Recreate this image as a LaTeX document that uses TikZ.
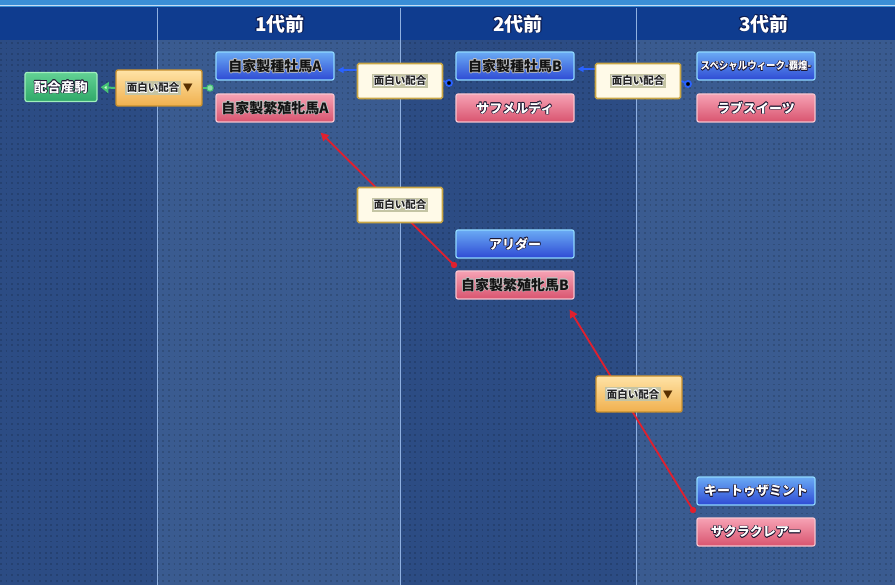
\documentclass[tikz,border=0pt]{standalone}
\usepackage{fontspec}
\setmainfont{Noto Sans CJK JP}
\usetikzlibrary{arrows.meta}
\definecolor{colA}{HTML}{2C4C84}
\definecolor{colB}{HTML}{3A5B90}
\definecolor{topstrip}{HTML}{3A8ED6}
\definecolor{headbg}{HTML}{0F3C8F}
\definecolor{divider}{HTML}{8FB0E0}
\definecolor{blueT}{HTML}{6AAAF4}
\definecolor{blueB}{HTML}{2E4AD4}
\definecolor{blueE}{HTML}{8FD8FF}
\definecolor{pinkT}{HTML}{F6A2B4}
\definecolor{pinkB}{HTML}{D9546F}
\definecolor{pinkE}{HTML}{F8C4CE}
\definecolor{greenT}{HTML}{62D294}
\definecolor{greenB}{HTML}{2FA868}
\definecolor{greenE}{HTML}{A0F0BC}
\definecolor{orT}{HTML}{FFE3A6}
\definecolor{orB}{HTML}{F0B04E}
\definecolor{orE}{HTML}{C8902E}
\definecolor{creamF}{HTML}{FFFAE8}
\definecolor{creamE}{HTML}{C9A645}
\definecolor{chipbg}{HTML}{C4C4A4}
\definecolor{redln}{HTML}{E0202E}
\definecolor{blueln}{HTML}{2A62FF}
\definecolor{greenln}{HTML}{46C476}
\definecolor{darkout}{HTML}{1C1630}
\definecolor{navyout}{HTML}{0A1A50}
\definecolor{tri}{HTML}{5A3000}
\newbox\otbox
\newcommand\otxt[3]{{\setbox\otbox\hbox{#3}\color{#1}%
 \rlap{\kern-.7pt\copy\otbox}\rlap{\kern.7pt\copy\otbox}%
 \rlap{\raise.7pt\copy\otbox}\rlap{\lower.7pt\copy\otbox}%
 \rlap{\kern-.5pt\raise.5pt\copy\otbox}\rlap{\kern.5pt\raise.5pt\copy\otbox}%
 \rlap{\kern-.5pt\lower.5pt\copy\otbox}\rlap{\kern.5pt\lower.5pt\copy\otbox}%
 \color{#2}\copy\otbox}}
\newcommand\chip[1]{{\setlength\fboxsep{1.5pt}\colorbox{chipbg}{\fontsize{10.5}{12}\selectfont\bfseries\otxt{white}{black!85}{#1}}}}
\newcommand\whitename[2]{\fontsize{#1}{#1}\selectfont\bfseries\otxt{darkout}{white}{#2}}
\newcommand\darkname[1]{\fontsize{14}{14}\selectfont\bfseries\otxt{white!75!black}{black!92}{#1}}
\pgfdeclarelayer{back}
\pgfdeclarelayer{mid}
\pgfsetlayers{back,mid,main}
\tikzset{
  box/.style={rectangle, rounded corners=2pt, minimum width=118pt, minimum height=28pt, inner sep=0pt, line width=1.2pt},
  sirebox/.style={box, top color=blueT, bottom color=blueB, draw=blueE},
  dambox/.style={box, top color=pinkT, bottom color=pinkB, draw=pinkE},
  childbox/.style={rectangle, rounded corners=2pt, minimum width=72pt, minimum height=29pt, inner sep=0pt, line width=1.2pt, top color=greenT, bottom color=greenB, draw=greenE},
  creambox/.style={rectangle, rounded corners=1.5pt, minimum width=85pt, minimum height=35pt, inner sep=0pt, line width=1.6pt, fill=creamF, draw=creamE},
  orbox/.style={rectangle, rounded corners=2pt, minimum width=86pt, minimum height=36pt, inner sep=0pt, line width=1.4pt, top color=orT, bottom color=orB, draw=orE},
  head/.style={inner sep=0pt, font=\fontsize{19}{19}\selectfont\bfseries},
  redarr/.style={draw=redln, line width=1.8pt, -{Triangle[length=8pt,width=8pt]}},
  blueln/.style={draw=blueln, line width=1.8pt},
  bluearr/.style={blueln, -{Triangle[length=6pt,width=6pt]}},
  greenarr/.style={draw=greenln, line width=2pt, -{Triangle[open, length=8pt, width=11pt, fill=green!20!white]}},
}
\begin{document}
\begin{tikzpicture}[x=1pt,y=-1pt]
\useasboundingbox (0,0) rectangle (895,585);
\begin{pgfonlayer}{back}
  \fill[colA] (0,0) rectangle (157,585);
  \fill[colB] (157,0) rectangle (400,585);
  \fill[colA] (400,0) rectangle (636,585);
  \fill[colB] (636,0) rectangle (895,585);
  \foreach \yy in {43,48.6,...,585}
    \draw[black, opacity=0.14, line width=1.8pt, dash pattern=on 1.8pt off 3.8pt] (0,\yy) -- (895,\yy);
  \fill[headbg] (0,7) rectangle (895,40);
  \fill[topstrip] (0,0) rectangle (895,7);
  \draw[white!70!topstrip, line width=1pt] (0,5.5) -- (895,5.5);
  \foreach \xx in {157,400,636} \draw[divider, line width=1pt] (\xx,8) -- (\xx,585);
\end{pgfonlayer}
% headers
\node[head] (h1) at (280,24) {\otxt{navyout}{white}{1代前}};
\node[head] (h2) at (518,24) {\otxt{navyout}{white}{2代前}};
\node[head] (h3) at (764,24) {\otxt{navyout}{white}{3代前}};
% nodes
\node[childbox] (child) at (61,87) {\whitename{13.5}{配合産駒}};
\node[orbox] (ob1) at (159,88) {\chip{面白い配合}\kern2pt\textcolor{tri}{\fontsize{10}{10}\selectfont ▼}};
\node[sirebox] (sA) at (275,66) {\darkname{自家製種牡馬A}};
\node[dambox] (dA) at (275,108) {\darkname{自家製繁殖牝馬A}};
\node[creambox] (c1) at (400,81) {\chip{面白い配合}};
\node[sirebox] (sB) at (515,66) {\darkname{自家製種牡馬B}};
\node[dambox] (sf) at (515,108) {\whitename{13}{サフメルディ}};
\node[creambox] (c2) at (638,81) {\chip{面白い配合}};
\node[sirebox] (sw) at (756,66) {\scalebox{0.9}[1]{\whitename{10.5}{スペシャルウィーク-覇煌-}}};
\node[dambox] (lb) at (756,108) {\whitename{13}{ラブスイーツ}};
\node[creambox] (c3) at (400,205) {\chip{面白い配合}};
\node[sirebox] (al) at (515,244) {\whitename{13}{アリダー}};
\node[dambox] (dB) at (515,285) {\darkname{自家製繁殖牝馬B}};
\node[orbox] (ob2) at (639,394) {\chip{面白い配合}\kern2pt\textcolor{tri}{\fontsize{10}{10}\selectfont ▼}};
\node[sirebox] (km) at (756,491) {\whitename{13}{キートゥザミント}};
\node[dambox] (sk) at (756,532) {\whitename{13}{サクラクレアー}};
% connector end points
\coordinate (gdot) at (210,88);
\coordinate (bd1) at (449,83);
\coordinate (bd2) at (688,84);
\coordinate (rd1) at (454,265);
\coordinate (rd2) at (693,510);
\begin{pgfonlayer}{mid}
  \draw[greenarr, shorten >=3pt] (ob1.west) -- (child.east);
  \draw[draw=greenln, line width=2pt] (ob1.east) -- (gdot);
  \draw[bluearr, shorten >=3pt] ([yshift=11pt]c1.west) -- ([yshift=11pt]c1.west -| sA.east);
  \draw[bluearr, shorten >=3pt] ([yshift=12pt]c2.west) -- ([yshift=12pt]c2.west -| sB.east);
  \draw[blueln] (c1.east) -- (bd1);
  \draw[blueln] (c2.east) -- (bd2);
  \draw[redarr] (rd1) -- ([shift={(-14pt,-10pt)}]dA.south east);
  \draw[redarr] (rd2) -- ([shift={(-5pt,-10pt)}]dB.south east);
\end{pgfonlayer}
\fill[greenln!60!white, draw=greenln, line width=1pt] (gdot) circle (3.2pt);
\fill[blueln] (bd1) circle (3pt);
\fill[blueln] (bd2) circle (3pt);
\fill[redln] (rd1) circle (3.2pt);
\fill[redln] (rd2) circle (3.2pt);
\end{tikzpicture}
\end{document}
